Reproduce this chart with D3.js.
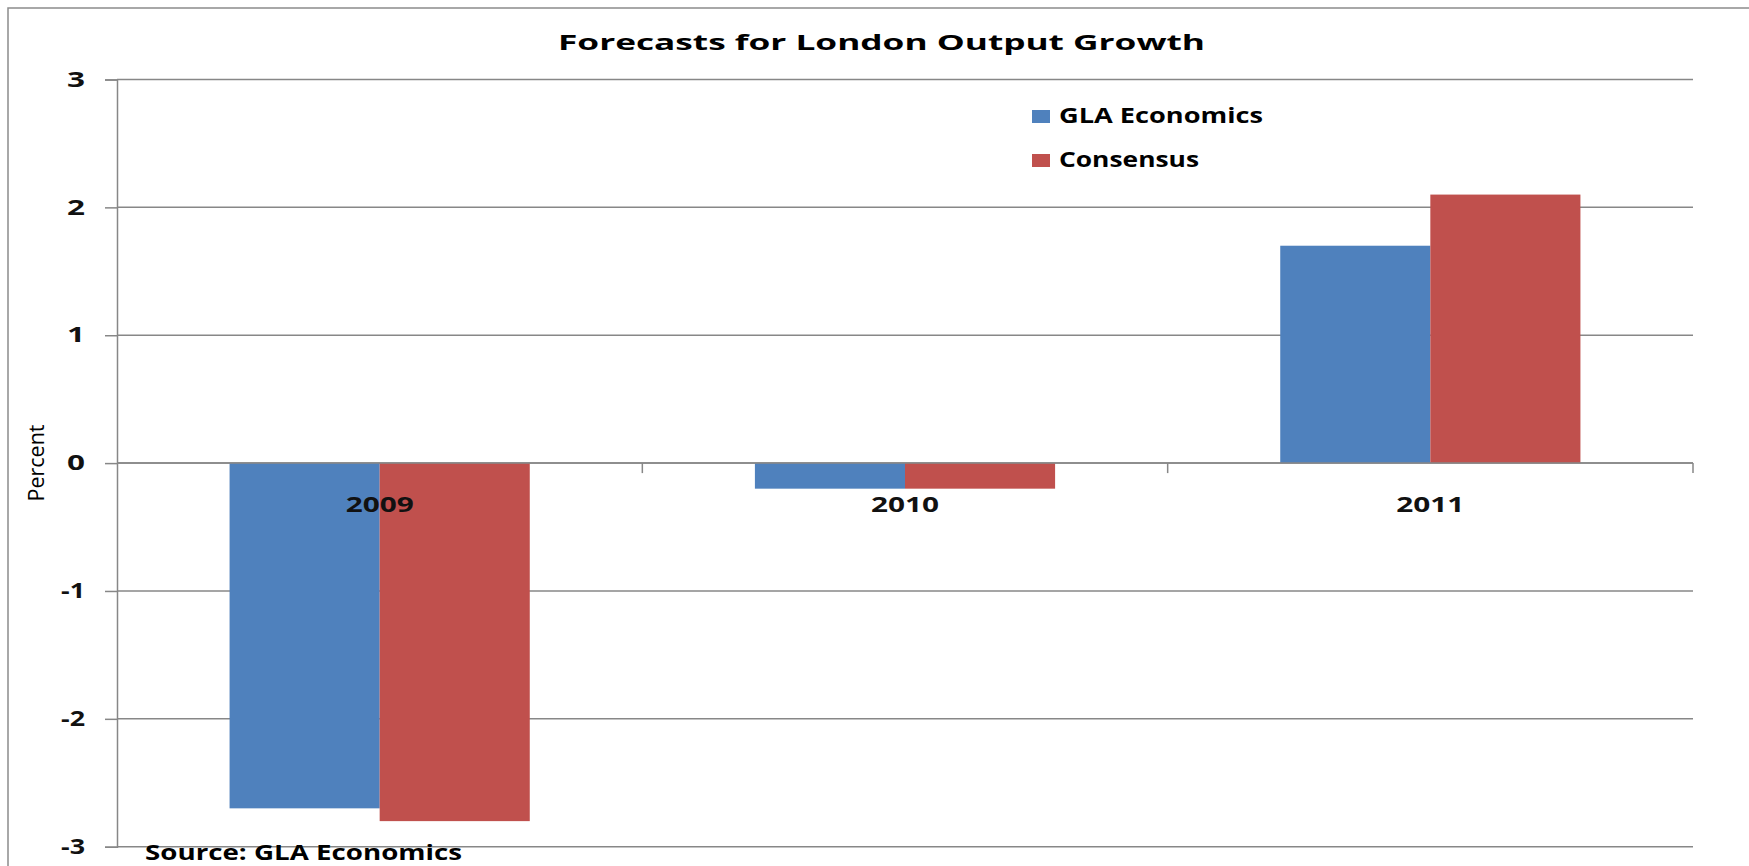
<!DOCTYPE html>
<html>
<head>
<meta charset="utf-8">
<script src="https://cdn.jsdelivr.net/npm/d3@7"></script>
<style>
  html, body { margin: 0; padding: 0; background: #fff; }
  svg { display: block; }
  text { font-family: "Open Sans", "Noto Sans", sans-serif; }
</style>
</head>
<body>
<svg id="chart" width="1749" height="866"></svg>
<script>
// ---- data ----
const categories = ["2009", "2010", "2011"];
const seriesNames = ["GLA Economics", "Consensus"];
const glaEconomics = [-2.7, -0.2, 1.7];
const consensus = [-2.8, -0.2, 2.1];
const yTicks = [-3, -2, -1, 0, 1, 2, 3];
const yTickLabels = ["-3", "-2", "-1", "0", "1", "2", "3"];
const seriesColors = ["#4F81BD", "#C0504D"];
const titleText = "Forecasts for London Output Growth";
const yLabel = "Percent";
const sourceText = "Source: GLA Economics";

const seriesValues = [glaEconomics, consensus];

(function () {
const svg = d3.select("#chart");
const W = 1749, H = 866;
const plotLeft = 117, plotRight = 1693, plotTop = 79.5, plotBottom = 846.7;

svg.append("rect").attr("width", W).attr("height", H).attr("fill", "#fff");
// outer chart border (only top & left visible in the reference)
svg.append("rect").attr("x", 8).attr("y", 8).attr("width", W + 50).attr("height", H + 50)
  .attr("fill", "none").attr("stroke", "#8c8c8c").attr("stroke-width", 1.5);

const y = d3.scaleLinear().domain([-3, 3]).range([plotBottom, plotTop]);
const x0 = d3.scaleBand().domain(categories).range([plotLeft, plotRight]).padding(0);
const x1 = d3.scaleBand().domain(seriesNames).range([0, x0.bandwidth()])
  .paddingInner(0).paddingOuter(0.75);

// gridlines
svg.append("g").selectAll("line").data(yTicks).join("line")
  .attr("x1", plotLeft).attr("x2", plotRight)
  .attr("y1", d => y(d)).attr("y2", d => y(d))
  .attr("stroke", "#878787").attr("stroke-width", 1.5);

// bars
const rows = categories.map((c, i) => ({cat: c, vals: seriesNames.map((s, j) => ({s, j, v: seriesValues[j][i]}))}));
svg.append("g").selectAll("g").data(rows).join("g")
  .attr("transform", d => `translate(${x0(d.cat)},0)`)
  .selectAll("rect").data(d => d.vals).join("rect")
  .attr("x", d => x1(d.s))
  .attr("width", x1.bandwidth())
  .attr("y", d => y(Math.max(0, d.v)))
  .attr("height", d => Math.abs(y(d.v) - y(0)))
  .attr("fill", d => seriesColors[d.j]);

// y axis
const yAxis = svg.append("g").attr("transform", `translate(${plotLeft},0)`)
  .call(d3.axisLeft(y).tickValues(yTicks).tickSize(12).tickPadding(20)
    .tickFormat((d, i) => yTickLabels[i]));
yAxis.select(".domain").attr("stroke", "#878787").attr("stroke-width", 1.5);
yAxis.selectAll(".tick line").attr("stroke", "#878787").attr("stroke-width", 1.5);
yAxis.selectAll(".tick text")
  .attr("font-size", 21).attr("font-weight", "bold").attr("fill", "#111")
  .attr("font-family", '"Open Sans", sans-serif')
  .attr("textLength", d => d < 0 ? 24 : 18).attr("lengthAdjust", "spacingAndGlyphs");

// x axis (at zero) with boundary ticks
const boundaries = categories.map(c => x0(c) + x0.bandwidth());
const xAxis = svg.append("g");
xAxis.append("line").attr("x1", plotLeft).attr("x2", plotRight).attr("y1", y(0)).attr("y2", y(0))
  .attr("stroke", "#878787").attr("stroke-width", 1.5);
xAxis.selectAll("line.bt").data(boundaries).join("line").attr("class", "bt")
  .attr("x1", d => d).attr("x2", d => d).attr("y1", y(0)).attr("y2", y(0) + 10)
  .attr("stroke", "#878787").attr("stroke-width", 1.5);

// category labels
svg.append("g").selectAll("text").data(categories).join("text")
  .attr("x", d => x0(d) + x0.bandwidth() / 2)
  .attr("y", y(0) + 49)
  .attr("text-anchor", "middle")
  .attr("font-size", 22).attr("font-weight", "bold").attr("fill", "#111")
  .attr("textLength", 68).attr("lengthAdjust", "spacingAndGlyphs")
  .text(d => d);

// title
svg.append("text").attr("x", 558).attr("y", 50)
  .attr("font-size", 22).attr("font-weight", "bold").attr("fill", "#000")
  .attr("textLength", 647).attr("lengthAdjust", "spacingAndGlyphs")
  .text(titleText);

// y label
svg.append("text").attr("transform", "translate(44,463) rotate(-90)")
  .attr("text-anchor", "middle").attr("font-size", 22).attr("fill", "#000")
  .attr("textLength", 77).attr("lengthAdjust", "spacingAndGlyphs")
  .text(yLabel);

// legend
const legendWidths = [204, 140];
const lg = svg.append("g").selectAll("g").data(seriesNames).join("g")
  .attr("transform", (d, i) => `translate(1032,${110 + i * 44})`);
lg.append("rect").attr("width", 18).attr("height", 13).attr("fill", (d, i) => seriesColors[i]);
lg.append("text").attr("x", 27).attr("y", 13)
  .attr("font-size", 21).attr("font-weight", "bold").attr("fill", "#000")
  .attr("textLength", (d, i) => legendWidths[i]).attr("lengthAdjust", "spacingAndGlyphs")
  .text(d => d);

// source note
svg.append("text").attr("x", 145).attr("y", 860)
  .attr("font-size", 21).attr("font-weight", "bold").attr("fill", "#000")
  .attr("textLength", 317).attr("lengthAdjust", "spacingAndGlyphs")
  .text(sourceText);
})();
</script>
</body>
</html>
